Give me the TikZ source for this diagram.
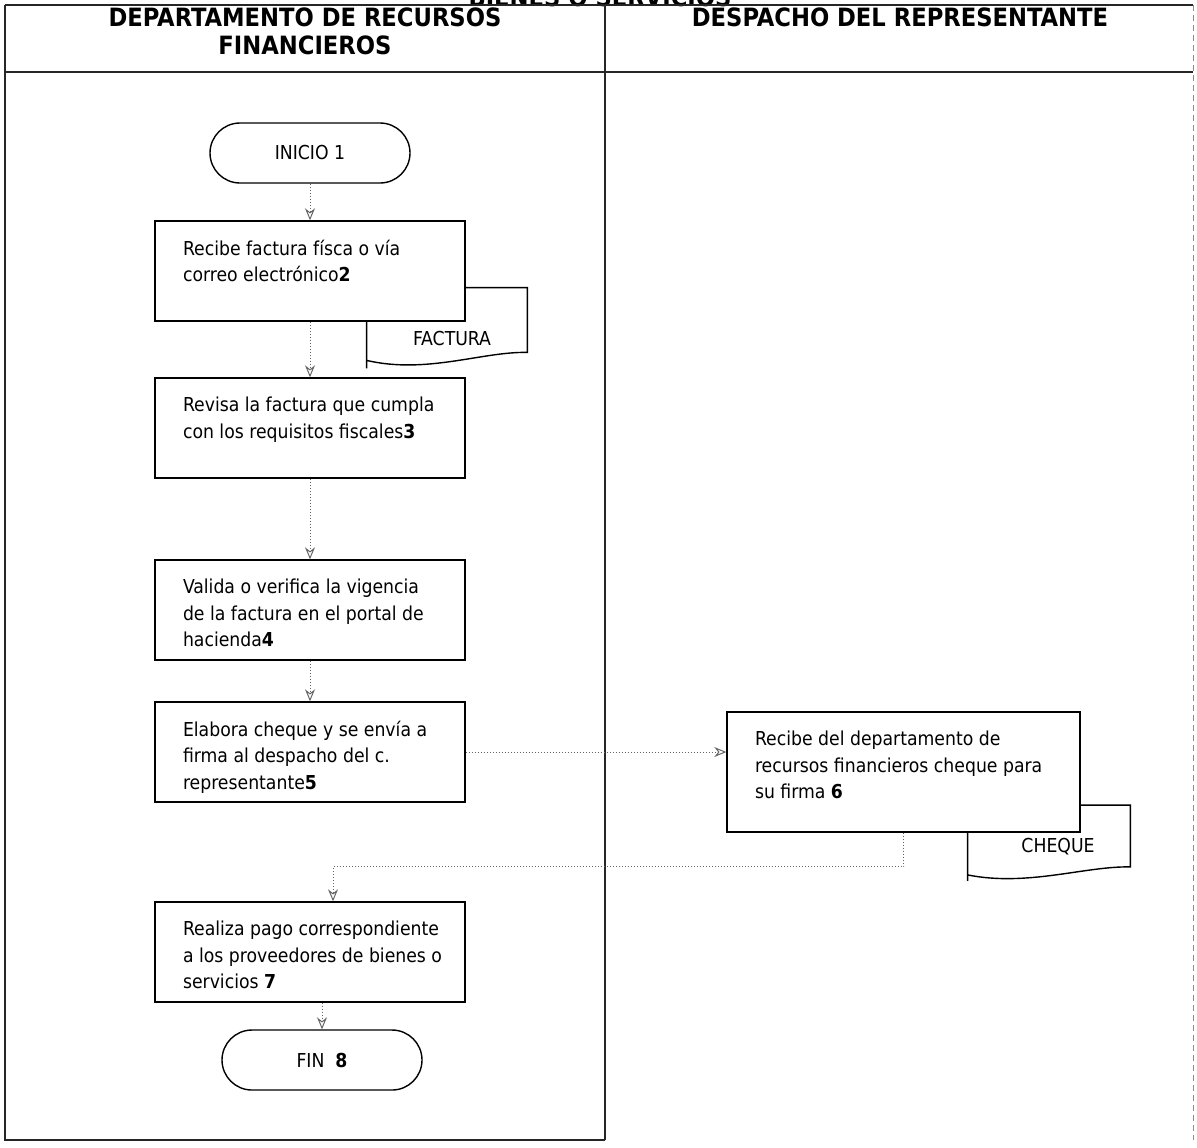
\documentclass[tikz,border=0pt]{standalone}
\usepackage{fontspec}
\setmainfont{DejaVu Sans Condensed}
\usetikzlibrary{arrows.meta,calc}

\begin{document}
\begin{tikzpicture}[x=0.5pt,y=-0.5pt,
  tablerule/.style={line width=0.7pt,black!85},
  head/.style={font=\fontsize{12.6}{14}\selectfont\bfseries,align=center,inner sep=0pt},
  bodyfont/.style={font=\fontsize{9.6}{13.3}\selectfont},
  proc/.style={draw,fill=white,line width=0.7pt,inner xsep=4pt,inner ysep=9.5pt,bodyfont},
  term/.style={draw,fill=white,line width=0.7pt,minimum width=100pt,minimum height=30pt,
               rounded corners=15pt,bodyfont,inner sep=0pt},
  docshape/.style={minimum width=80pt,minimum height=40pt,inner sep=0pt},
  conn/.style={black!60,line width=0.5pt,densely dotted,
               -{Stealth[length=6pt,width=5pt,open]}}]

\clip (0,0) rectangle (1197,1147);
\useasboundingbox (0,0) rectangle (1197,1147);

% title of the sheet, running off the upper edge
\node[head] (title) at (600,-3) {BIENES O SERVICIOS};

% swimlane frame
\draw[tablerule] (5,5) -- (1193,5);
\draw[tablerule] (5,72) -- (1193,72);
\draw[tablerule] (5,5) -- (5,1140) -- (605,1140);
\draw[tablerule] (605,5) -- (605,1140);
\draw[black!45,line width=0.4pt,densely dashed] (1193,5) -- (1193,1140);

\node[head] (laneA) at (305,31) {DEPARTAMENTO DE RECURSOS\\FINANCIEROS};
\node[head] (laneB) at (900,17) {DESPACHO DEL REPRESENTANTE};

% documents (partly hidden behind their process boxes)
\node[docshape] (factura) at (447,328) {};
\draw[line width=0.7pt] (factura.south west) -- (factura.north west) -- (factura.north east)
  -- ($(factura.south east)+(0,-16)$)
  .. controls ($(factura.south east)+(-45,-17)$) and ($(factura.south west)+(60,6)$)
  .. ($(factura.south west)+(0,-8)$);
\node[bodyfont] (facturaT) at (452,338) {FACTURA};

\node[docshape,minimum width=81pt,minimum height=37.5pt] (cheque) at (1049,843) {};
\draw[line width=0.7pt] (cheque.south west) -- (cheque.north west) -- (cheque.north east)
  -- ($(cheque.south east)+(0,-14)$)
  .. controls ($(cheque.south east)+(-45,-15)$) and ($(cheque.south west)+(60,6)$)
  .. ($(cheque.south west)+(0,-6)$);
\node[bodyfont] (chequeT) at (1058,847) {CHEQUE};

% flow steps
\node[term] (inicio) at (310,153) {INICIO 1};

\node[proc] (recibe) at (310,271) {\parbox[t][31pt][t]{147pt}{\raggedright\leftskip=10pt
  Recibe factura físca o vía\\correo electrónico\textbf{2}}};

\node[proc] (revisa) at (310,428) {\parbox[t][31pt][t]{147pt}{\raggedright\leftskip=10pt
  Revisa la factura que cumpla\\con los requisitos fiscales\textbf{3}}};

\node[proc] (valida) at (310,610) {\parbox[t][31pt][t]{147pt}{\raggedright\leftskip=10pt
  Valida o verifica la vigencia\\de la factura en el portal de\\hacienda\textbf{4}}};

\node[proc] (elabora) at (310,752) {\parbox[t][31pt][t]{147pt}{\raggedright\leftskip=10pt
  Elabora cheque y se envía a\\firma al despacho del c.\\representante\textbf{5}}};

\node[proc] (firma) at (903.5,772) {\parbox[t][41pt][t]{168.5pt}{\raggedright\leftskip=10pt
  Recibe del departamento de\\recursos financieros cheque para\\su firma \textbf{6}}};

\node[proc] (pago) at (310,952) {\parbox[t][31pt][t]{147pt}{\raggedright\leftskip=10pt
  Realiza pago correspondiente\\a los proveedores de bienes o\\servicios \textbf{7}}};

\node[term] (fin) at (322,1060) {FIN \ \textbf{8}};

% connectors
\draw[conn] (inicio.south) -- (recibe.north);
\draw[conn] (recibe.south) -- (revisa.north);
\draw[conn] (revisa.south) -- (valida.north);
\draw[conn] (valida.south) -- (elabora.north);
\draw[conn] (elabora.east) -- (elabora.east -| firma.west);
\coordinate (drop) at ($(pago.north)+(23,0)$);
\draw[conn] (firma.south) -- ++(0,34) -| (drop);
\draw[conn] (fin.north |- pago.south) -- (fin.north);
\end{tikzpicture}
\end{document}
